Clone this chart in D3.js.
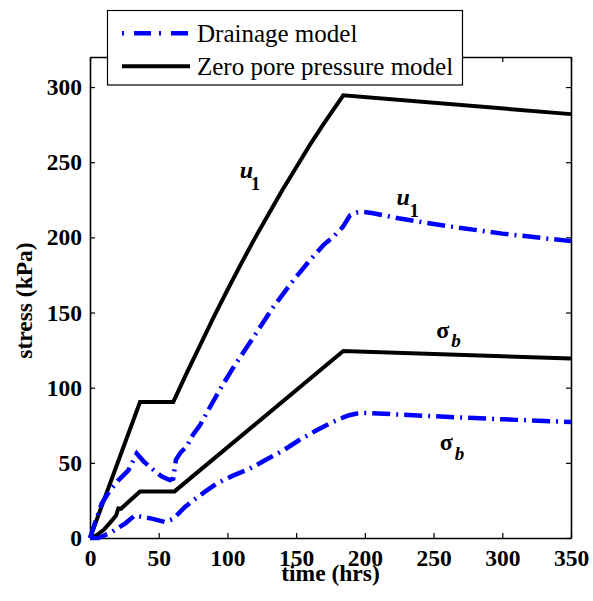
<!DOCTYPE html>
<html>
<head>
<meta charset="utf-8">
<script src="https://cdn.jsdelivr.net/npm/d3@7"></script>
<style>
  html, body { margin: 0; padding: 0; background: #fff; }
  svg { display: block; }
  text { font-family: "Liberation Serif", "Times New Roman", serif; }
</style>
</head>
<body>
<svg id="chart" width="593" height="601"></svg>
<script>
// time (hrs) / stress (kPa) pairs for each curve
const drainU1Time  = [0, 4, 8.5, 14, 20.6, 27.9, 34, 39, 44.9, 52, 58, 60.6, 62.5, 66, 70.4, 75.2, 80, 89.7, 96, 104.3, 112, 120, 133.4, 148, 160, 170, 177, 184, 189.2, 194, 198.9, 205, 225.6, 260, 300, 350];
const drainU1Val   = [0, 11, 22.9, 31, 38.4, 45, 56.2, 51, 46.2, 41, 38.5, 39.5, 52, 57, 61, 69, 75, 91, 101, 113.5, 124, 135, 153.7, 171.5, 184.8, 195, 200.3, 207, 214.7, 216.5, 216.9, 216.2, 212.5, 207.5, 202.5, 197.5];

const drainSbTime  = [0, 6, 10, 15.8, 25.5, 32.7, 38, 44.9, 54.6, 60, 64.3, 69.1, 75.2, 84, 92.2, 104, 116.4, 128, 140.7, 152, 164.9, 174, 181.9, 188, 194, 198.9, 210, 250, 300, 350];
const drainSbVal   = [0, 0, 1.5, 4, 9.6, 15.1, 14, 12.9, 10.6, 12.5, 16.2, 20.6, 25, 31, 36.2, 41.5, 46.2, 52, 58.3, 65, 71.7, 76, 79.4, 81.5, 82.8, 83.2, 82.8, 81, 79, 77.2];

const zeroU1Time   = [0, 36.4, 60.6, 70, 80, 90, 100, 110, 120, 130, 140, 150, 160, 170, 184.3, 350];
const zeroU1Val    = [0, 90.5, 90.5, 109, 128, 147, 165, 182.5, 199.5, 215.5, 231.5, 246.5, 261.5, 275.5, 294.5, 282];

const zeroSbTime   = [0, 5, 10, 14, 19, 20.6, 22.5, 36.4, 61.5, 184.3, 350];
const zeroSbVal    = [0, 2, 5.5, 9.6, 15, 19.6, 19.4, 31, 31, 124.4, 119.4];

const xTicks = [0, 50, 100, 150, 200, 250, 300, 350];
const yTicks = [0, 50, 100, 150, 200, 250, 300];
const legendLabels = ["Drainage model", "Zero pore pressure model"];

const svg = d3.select("#chart");
const margin = { left: 90, top: 57, right: 22, bottom: 63 };
const W = 593, H = 601;
const x = d3.scaleLinear().domain([0, 350]).range([margin.left, W - margin.right]);
const y = d3.scaleLinear().domain([0, 320]).range([H - margin.bottom, margin.top]);

const pts = (ts, vs) => ts.map((t, i) => [t, vs[i]]);
const line = d3.line().x(d => x(d[0])).y(d => y(d[1]));

// axes with inward ticks, mirrored on top and right
const tickStyle = g => {
  g.selectAll(".domain").attr("stroke", "#000").attr("stroke-width", 1.6);
  g.selectAll(".tick line").attr("stroke", "#000").attr("stroke-width", 1.2);
};
const bottom = svg.append("g").attr("transform", `translate(0,${y(0)})`)
  .call(d3.axisBottom(x).tickValues(xTicks).tickSize(-5).tickSizeOuter(0).tickPadding(11))
  .call(tickStyle);
bottom.selectAll("text").attr("font-size", 23.5).attr("font-weight", "bold")
  .attr("font-family", "Liberation Serif").attr("fill", "#000");

const left = svg.append("g").attr("transform", `translate(${x(0)},0)`)
  .call(d3.axisLeft(y).tickValues(yTicks).tickSize(-5).tickSizeOuter(0).tickPadding(8))
  .call(tickStyle);
left.selectAll("text").attr("font-size", 23.5).attr("font-weight", "bold")
  .attr("font-family", "Liberation Serif").attr("fill", "#000");

svg.append("g").attr("transform", `translate(0,${y(320)})`)
  .call(d3.axisTop(x).tickValues(xTicks).tickSize(-5).tickSizeOuter(0).tickFormat(""))
  .call(tickStyle);
svg.append("g").attr("transform", `translate(${x(350)},0)`)
  .call(d3.axisRight(y).tickValues(yTicks).tickSize(-5).tickSizeOuter(0).tickFormat(""))
  .call(tickStyle);

// curves
const curves = svg.append("g").attr("fill", "none");
const dashDot = "18,6,2,6";
curves.append("path").datum(pts(zeroU1Time, zeroU1Val))
  .attr("d", line).attr("stroke", "#000").attr("stroke-width", 4).attr("stroke-linejoin", "miter");
curves.append("path").datum(pts(zeroSbTime, zeroSbVal))
  .attr("d", line).attr("stroke", "#000").attr("stroke-width", 4).attr("stroke-linejoin", "miter");
curves.append("path").datum(pts(drainU1Time, drainU1Val))
  .attr("d", line).attr("stroke", "#0000ff").attr("stroke-width", 4.5).attr("stroke-dasharray", dashDot);
curves.append("path").datum(pts(drainSbTime, drainSbVal))
  .attr("d", line).attr("stroke", "#0000ff").attr("stroke-width", 4.5).attr("stroke-dasharray", dashDot);

// curve annotations: symbol with subscript
const annotations = [
  { main: "u", sub: "1", t: 109, v: 239.5, subItalic: false, mainItalic: true, dx: 11, dy: 12 },
  { main: "u", sub: "1", t: 223, v: 221.5, subItalic: false, mainItalic: true, dx: 13, dy: 12 },
  { main: "σ", sub: "b", t: 252, v: 133, subItalic: true, mainItalic: false, dx: 15, dy: 9 },
  { main: "σ", sub: "b", t: 254.5, v: 58.3, subItalic: true, mainItalic: false, dx: 15, dy: 10 }
];
const ann = svg.append("g");
annotations.forEach(a => {
  const g = ann.append("g").attr("transform", `translate(${x(a.t)},${y(a.v)})`);
  g.append("text").text(a.main).attr("font-size", 24).attr("font-weight", "bold")
    .attr("font-style", a.mainItalic ? "italic" : "normal").attr("fill", "#000");
  g.append("text").text(a.sub).attr("x", a.dx).attr("y", a.dy).attr("font-size", 19)
    .attr("font-weight", "bold").attr("font-style", a.subItalic ? "italic" : "normal").attr("fill", "#000");
});

// axis titles
svg.append("text").text("time (hrs)")
  .attr("x", x(175)).attr("y", 581).attr("text-anchor", "middle")
  .attr("font-size", 23.5).attr("font-weight", "bold").attr("fill", "#000");
svg.append("text").text("stress (kPa)")
  .attr("transform", `translate(32,${y(158)}) rotate(-90)`).attr("text-anchor", "middle")
  .attr("font-size", 23.5).attr("font-weight", "bold").attr("fill", "#000");

// legend
const legend = svg.append("g");
legend.append("rect").attr("x", 107.5).attr("y", 10.5).attr("width", 355).attr("height", 74.5)
  .attr("fill", "#fff").attr("stroke", "#000").attr("stroke-width", 1.2);
const legendStyles = [
  { stroke: "#0000ff", width: 4.5, dash: "2,10,17,8" },
  { stroke: "#000", width: 4, dash: null }
];
legendLabels.forEach((label, i) => {
  const yy = 33.3 + i * 33;
  legend.append("line").attr("x1", 122).attr("x2", 190).attr("y1", yy).attr("y2", yy)
    .attr("stroke", legendStyles[i].stroke).attr("stroke-width", legendStyles[i].width)
    .attr("stroke-dasharray", legendStyles[i].dash);
  legend.append("text").text(label).attr("x", 197).attr("y", yy + 8.5)
    .attr("font-size", 25).attr("fill", "#000");
});
</script>
</body>
</html>
